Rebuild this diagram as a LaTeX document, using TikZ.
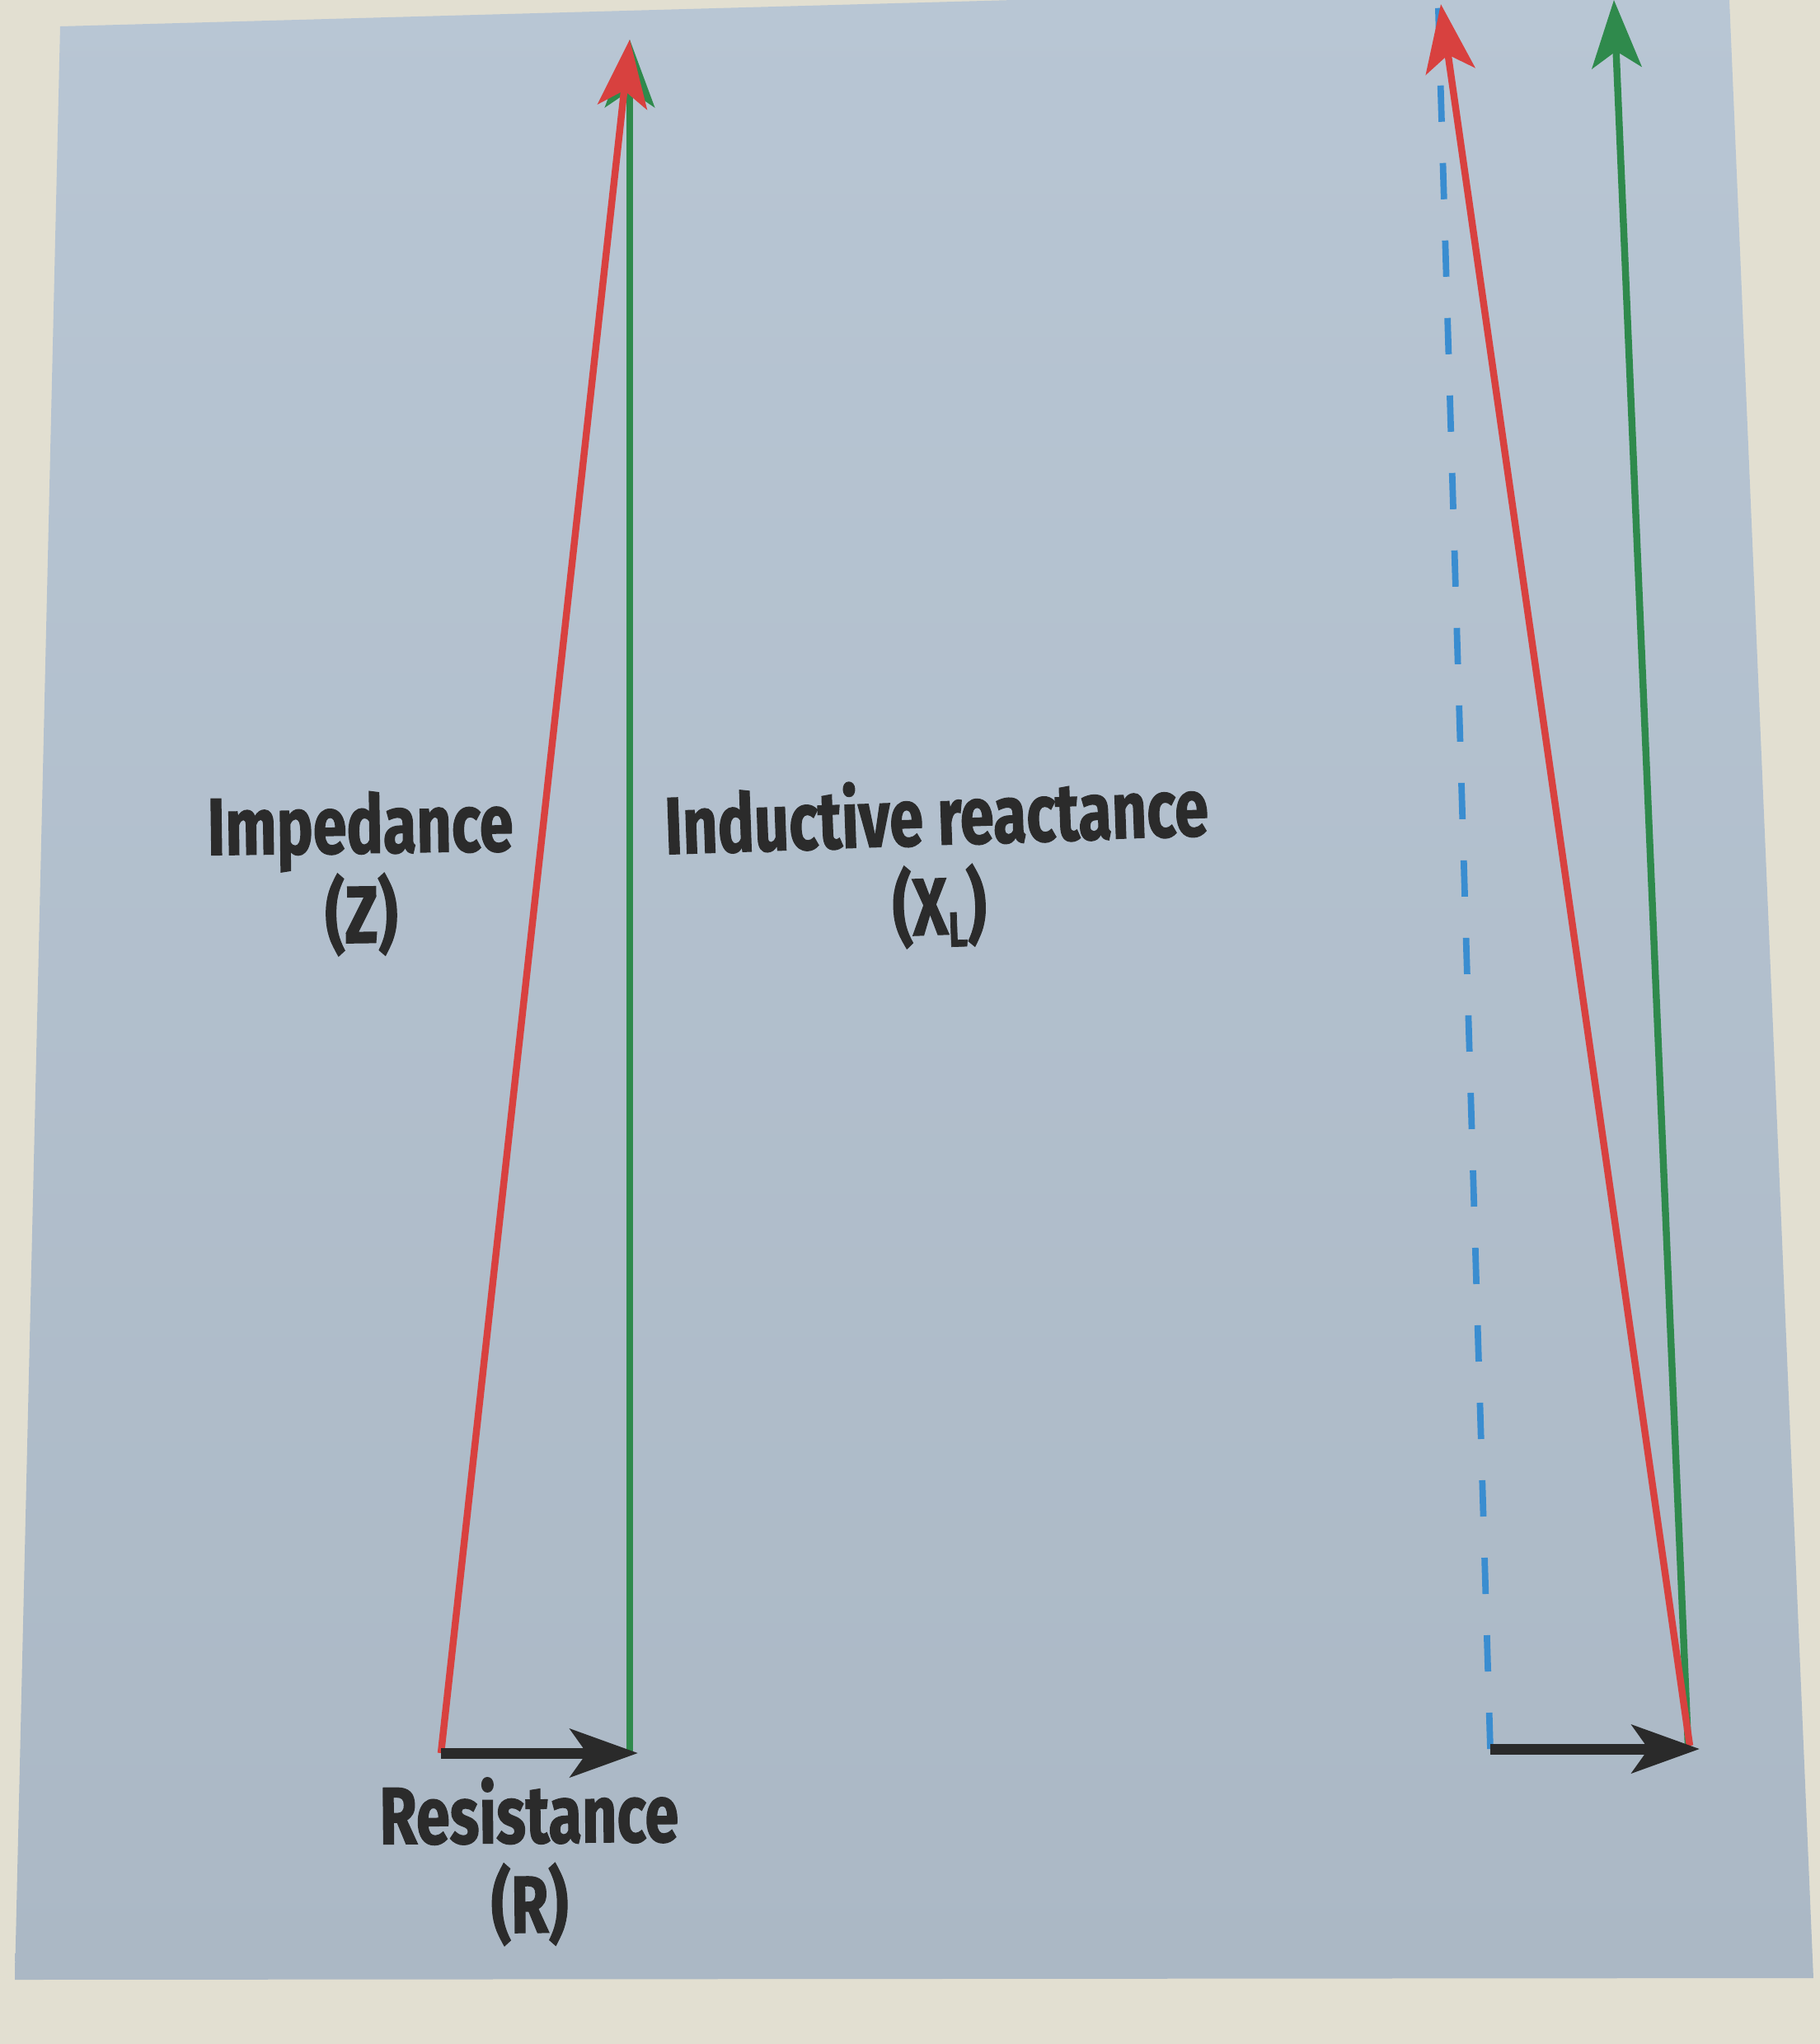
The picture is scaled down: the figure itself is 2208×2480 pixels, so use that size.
\documentclass[tikz,border=0pt]{standalone}
\usepackage{fontspec}
\usetikzlibrary{arrows.meta}
\newfontfamily\labfont{Fira Sans}[FakeStretch=0.75,FakeBold=1.2]
\definecolor{paper}{HTML}{E2DFD1}
\definecolor{paneltop}{HTML}{B8C6D4}
\definecolor{panelbot}{HTML}{ABB8C5}
\definecolor{vred}{HTML}{D8413F}
\definecolor{vgreen}{HTML}{2F8A4C}
\definecolor{vblue}{HTML}{3A8DD0}
\definecolor{vblack}{HTML}{2A2A2A}
\definecolor{ink}{HTML}{2B2B2B}
\begin{document}
\begin{tikzpicture}[x=0.01cm,y=-0.01cm,
  vec/.style={line width=2.4pt, line cap=butt,
    -{Stealth[length=0.82cm,width=0.6cm,inset=0.2cm]}},
  rvec/.style={vec, draw=vred, fill=vred},
  gvec/.style={vec, draw=vgreen, fill=vgreen},
  kvec/.style={line width=3.7pt, draw=vblack, fill=vblack,
    -{Stealth[length=0.82cm,width=0.58cm,inset=0.2cm]}},
  dashline/.style={draw=vblue, line width=2.2pt, dash pattern=on 0.44cm off 0.5cm},
  lab/.style={text=ink, font=\labfont\bfseries\fontsize{28}{31}\selectfont,
    align=center, inner sep=0pt}
]
\useasboundingbox (0,0) rectangle (2208,2480);
% paper and panel
\fill[paper] (0,0) rectangle (2208,2480);
\shade[top color=paneltop, bottom color=panelbot]
  (73,32) -- (2097,-24) -- (2200,2400) -- (18,2402) -- cycle;

% left diagram
\coordinate (O1) at (535,2127);
\coordinate (B1) at (764,2127);
\coordinate (R1) at (774,2127);
\coordinate (T1) at (764,48);
\draw[gvec] (B1) -- (T1);
\draw[rvec] (O1) -- (T1);
\draw[kvec] (O1) -- (R1);

% right diagram
\coordinate (O2) at (1808,2122);
\coordinate (R2) at (2062,2122);
\coordinate (G2) at (2048,2118);
\coordinate (E2) at (2050,2118);
\coordinate (TR) at (1748,5);
\coordinate (TG) at (1958,0);
\coordinate (TB) at (1744,-20);
\draw[dashline] (O2) -- (TB);
\draw[gvec] (G2) -- (TG);
\draw[rvec] (E2) -- (TR);
\draw[kvec] (O2) -- (R2);

% labels (anchor = baseline of the last line)
\node[lab, anchor=base, rotate=0.8] (imp) at (439,1144) {Impedance\\(Z)};
\node[lab, anchor=base, rotate=2] (ind) at (1141,1134)
  {Inductive reactance\\(X\raisebox{-4.3pt}{\fontsize{17}{17}\selectfont L})};
\node[lab, anchor=base, rotate=0.5] (res) at (643,2345) {Resistance\\(R)};
\end{tikzpicture}
\end{document}
